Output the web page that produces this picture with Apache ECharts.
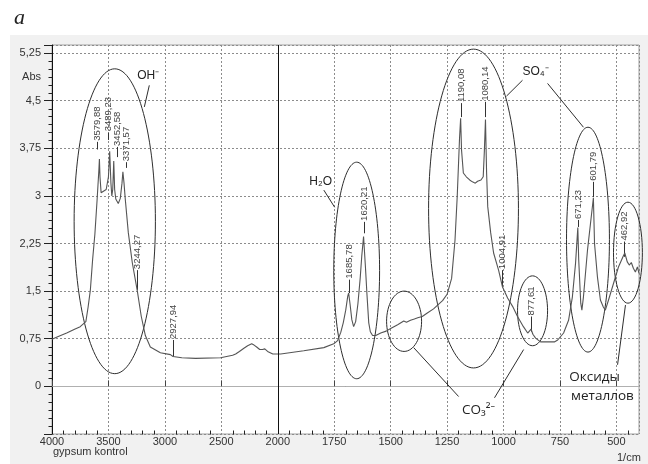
<!DOCTYPE html>
<html>
<head>
<meta charset="utf-8">
<script src="https://cdn.jsdelivr.net/npm/echarts@6/dist/echarts.min.js"></script>
<style>
html, body { margin: 0; padding: 0; background: #fff; }
#wrap { position: relative; width: 648px; height: 464px; }
.frame { position: absolute; left: 10px; top: 35px; width: 638px; height: 429px; background: #f1f1f1; }
#chart { position: absolute; left: 0; top: 0; width: 648px; height: 464px; }
</style>
</head>
<body>
<div id="wrap"><div class="frame"></div><div id="chart"></div></div>
<script>
// IR spectrum (wavenumber 1/cm, absorbance)
var wavenumbers = [
  4000, 3950, 3870, 3800, 3750, 3700, 3680, 3660, 3640, 3620, 3600, 3585, 3580, 3575, 3565, 3550,
  3520, 3500, 3489, 3478, 3470, 3462, 3453, 3445, 3435, 3413, 3395, 3380, 3372, 3362, 3351, 3324,
  3289, 3244, 3209, 3173, 3129, 3040, 2951, 2928, 2850, 2729, 2507, 2400, 2373, 2340, 2300, 2267,
  2231, 2210, 2187, 2160, 2135, 2115, 2090, 2044, 1987, 1885, 1796, 1752, 1735, 1721, 1710, 1699,
  1690, 1686, 1680, 1672, 1664, 1655, 1645, 1635, 1628, 1620, 1612, 1605, 1597, 1590, 1580, 1566,
  1544, 1520, 1500, 1469, 1442, 1430, 1412, 1395, 1380, 1360, 1336, 1310, 1292, 1270, 1250, 1230,
  1215, 1205, 1195, 1190, 1186, 1178, 1165, 1150, 1138, 1125, 1115, 1100, 1090, 1085, 1080, 1075,
  1070, 1057, 1044, 1022, 1005, 982, 960, 938, 912, 893, 885, 878, 870, 858, 836, 805,
  775, 760, 734, 712, 695, 681, 671, 667, 658, 653, 646, 628, 602, 597, 584, 571,
  558, 549, 535, 513, 491, 470, 463, 452, 443, 434, 425, 416, 407, 400
]
var absorbance = [
  0.74, 0.78, 0.84, 0.90, 0.94, 1.02, 1.25, 1.52, 2.00, 2.40, 2.95, 3.40, 3.58, 3.30, 3.05, 3.02,
  3.10, 3.30, 3.70, 3.20, 3.00, 3.10, 3.55, 3.10, 2.95, 2.88, 2.96, 3.20, 3.38, 3.20, 2.95, 2.42,
  1.95, 1.50, 1.10, 0.80, 0.62, 0.53, 0.50, 0.47, 0.45, 0.44, 0.45, 0.49, 0.51, 0.55, 0.60, 0.64,
  0.67, 0.65, 0.62, 0.58, 0.58, 0.59, 0.55, 0.51, 0.51, 0.56, 0.61, 0.67, 0.72, 0.85, 1.00, 1.20,
  1.42, 1.47, 1.30, 1.05, 0.94, 1.02, 1.30, 1.70, 2.05, 2.36, 1.90, 1.45, 1.00, 0.86, 0.80, 0.80,
  0.84, 0.87, 0.91, 0.97, 1.03, 1.01, 1.04, 1.06, 1.08, 1.10, 1.16, 1.22, 1.28, 1.35, 1.45, 1.70,
  2.30, 3.00, 3.90, 4.22, 3.72, 3.36, 3.30, 3.25, 3.22, 3.20, 3.23, 3.25, 3.30, 3.70, 4.20, 3.36,
  2.83, 2.42, 2.10, 1.83, 1.57, 1.39, 1.26, 1.10, 0.94, 0.84, 0.83, 0.90, 0.82, 0.76, 0.70, 0.70,
  0.70, 0.73, 0.84, 1.04, 1.41, 1.94, 2.50, 1.99, 1.31, 1.20, 1.41, 2.15, 2.97, 2.25, 1.72, 1.36,
  1.25, 1.20, 1.36, 1.62, 1.88, 2.05, 2.10, 1.96, 1.91, 1.95, 1.86, 1.80, 1.88, 1.78
]

// labelled peaks
var peakWn = [3579.88, 3489.23, 3452.58, 3371.57, 3244.27, 2927.94, 1685.78, 1620.21,
  1190.08, 1080.14, 1004.91, 877.61, 671.23, 601.79, 462.92]
// where each peak marker starts and ends (absorbance), and a sideways nudge in px
var peakTickLow = [3.73, 3.88, 3.61, 3.44, 1.52, 0.47, 1.47, 2.41, 4.24, 4.24, 1.57, 0.86, 2.51, 2.98, 2.04]
var peakTickTop = [3.85, 4.00, 3.77, 3.53, 1.83, 0.73, 1.68, 2.59, 4.46, 4.48, 1.83, 1.10, 2.62, 3.22, 2.28]
var peakNudge = [-2, -2, 3, 3, 0, 0, 0, 0, 0, 0, 0, 0, 0, 0, -1]

var xTickLabels = [4000, 3500, 3000, 2500, 2000, 1750, 1500, 1250, 1000, 750, 500]
var yTickLabels = [0, 0.75, 1.5, 2.25, 3, 3.75, 4.5, 5.25]

// band groups: left / right wavenumber, top / bottom absorbance
var ovals = [
  [3804, 3084, 5.00, 0.20],
  [1752, 1549, 3.53, 0.12],
  [1518, 1363, 1.50, 0.55],
  [1332, 934, 5.31, 0.29],
  [938, 805, 1.74, 0.64],
  [721, 531, 4.08, 0.54],
  [513, 385, 2.90, 1.31]
]
var leaders = [
  [3138, 4.74, 3182, 4.40],
  [1796, 3.09, 1748, 2.82],
  [916, 4.82, 987, 4.57],
  [805, 4.77, 646, 4.08],
  [1398, 0.61, 1199, -0.16],
  [911, 0.58, 1040, -0.18],
  [460, 1.28, 495, 0.34]
]
var bandNames = ['OH⁻', 'H₂O', 'SO₄⁻', 'CO₃²⁻', 'Оксиды', 'металлов']
var bandNameAt = [[3147, 4.89], [1810, 3.23], [858, 4.95], [1111, -0.37], [597, 0.15], [562, -0.15]]

// the wavenumber scale is stretched x2 below 2000
function toAxis(w) {
  return w >= 2000 ? (4000 - w) / 2000 : 1 + (2000 - w) / 1000
}
function fromAxis(u) {
  return u <= 1 ? 4000 - u * 2000 : 2000 - (u - 1) * 1000
}

// minor ticks: 100 / 50 steps on x, 0.125 on y
var minorX = []
for (var w = 3900; w > 2000; w -= 100) if (w % 500) minorX.push(w)
for (w = 1950; w > 400; w -= 50) if (w % 250) minorX.push(w)
var minorY = []
for (var k = -5; k < 43; k++) if (k % 6) minorY.push(k * 0.125)

var chart = echarts.init(document.getElementById('chart'))
var font = '"Liberation Sans", Arial, sans-serif'

var option = {
  animation: false,
  backgroundColor: 'transparent',
  title: {
    text: 'a', left: 9, top: 2,
    textStyle: { fontFamily: '"Liberation Serif", serif', fontStyle: 'italic', fontWeight: 'normal', fontSize: 22, color: '#222' }
  },
  grid: { left: 52, top: 45, width: 587, height: 389, show: true, backgroundColor: '#fff', borderColor: '#a0a0a0', borderWidth: 1 },
  xAxis: {
    type: 'value', min: 0, max: 2.6, interval: 0.25,
    axisLine: { lineStyle: { color: '#b0b0b0' } },
    axisTick: { inside: true, length: 6, lineStyle: { color: '#444' } },
    axisLabel: {
      margin: 2, color: '#333', fontFamily: font, fontSize: 11, showMaxLabel: false,
      formatter: function (u) {
        var w = Math.round(fromAxis(u))
        return xTickLabels.indexOf(w) >= 0 ? String(w) : ''
      }
    },
    splitLine: { show: true, lineStyle: { color: '#8c8c8c', type: [2, 2] } }
  },
  yAxis: {
    type: 'value', min: -0.75, max: 5.375, interval: 0.75,
    axisLine: { show: true, lineStyle: { color: '#111' } },
    axisTick: { show: true, length: 8, lineStyle: { color: '#222' } },
    axisLabel: {
      margin: 11, color: '#333', fontFamily: font, fontSize: 11,
      formatter: function (v) {
        var hit = yTickLabels.filter(function (t) { return Math.abs(t - v) < 1e-6 })
        return hit.length ? String(hit[0]).replace('.', ',') : ''
      }
    },
    splitLine: { show: true, lineStyle: { color: '#8c8c8c', type: [2, 2] } }
  },
  graphic: [
    { type: 'text', right: 607, top: 71, style: { text: 'Abs', font: '11px ' + font, fill: '#333' } },
    { type: 'text', left: 53, top: 446, style: { text: 'gypsum kontrol', font: '11px ' + font, fill: '#333' } },
    { type: 'text', left: 617, top: 452, style: { text: '1/cm', font: '11px ' + font, fill: '#333' } }
  ],
  series: [
    {
      name: 'spectrum', type: 'line', showSymbol: false, symbol: 'none',
      data: wavenumbers.map(function (w, i) { return [toAxis(w), absorbance[i]] }),
      lineStyle: { color: '#555', width: 1.1 },
      markLine: {
        silent: true, symbol: 'none', label: { show: false },
        data: [
          { xAxis: 1, lineStyle: { color: '#111', type: 'solid', width: 1 } },
          { yAxis: 5.375, lineStyle: { color: '#7a7a7a', type: 'solid', width: 2.5 } }
        ]
      }
    },
    {
      name: 'minorTicks', type: 'custom', silent: true, clip: false, z: 5,
      data: minorX.map(function (w) { return [toAxis(w), -0.75, 0] })
        .concat(minorY.map(function (a) { return [0, a, 1] })),
      renderItem: function (params, api) {
        var p = api.coord([api.value(0), api.value(1)])
        var onY = api.value(2) === 1
        var x = Math.round(p[0]) + 0.5, y = Math.round(p[1]) + 0.5
        return {
          type: 'line',
          shape: onY ? { x1: x - 4, y1: y, x2: x, y2: y } : { x1: x, y1: y, x2: x, y2: y - 4 },
          style: { stroke: '#222', lineWidth: 1 }
        }
      }
    },
    {
      name: 'groups', type: 'custom', silent: true, clip: false,
      data: ovals.map(function (o) { return [toAxis(o[0]), o[2], toAxis(o[1]), o[3]] }),
      renderItem: function (params, api) {
        var a = api.coord([api.value(0), api.value(1)])
        var b = api.coord([api.value(2), api.value(3)])
        return {
          type: 'ellipse',
          shape: { cx: (a[0] + b[0]) / 2, cy: (a[1] + b[1]) / 2, rx: Math.abs(b[0] - a[0]) / 2, ry: Math.abs(b[1] - a[1]) / 2 },
          style: { fill: null, stroke: '#2e2e2e', lineWidth: 1 }
        }
      }
    },
    {
      name: 'leaders', type: 'custom', silent: true, clip: false,
      data: leaders.map(function (l) { return [toAxis(l[0]), l[1], toAxis(l[2]), l[3]] }),
      renderItem: function (params, api) {
        var a = api.coord([api.value(0), api.value(1)])
        var b = api.coord([api.value(2), api.value(3)])
        return { type: 'line', shape: { x1: a[0], y1: a[1], x2: b[0], y2: b[1] }, style: { stroke: '#2e2e2e', lineWidth: 1 } }
      }
    },
    {
      name: 'bandNames', type: 'custom', silent: true, clip: false,
      data: bandNameAt.map(function (p) { return [toAxis(p[0]), p[1]] }),
      renderItem: function (params, api) {
        var p = api.coord([api.value(0), api.value(1)])
        var big = params.dataIndex >= 3
        return {
          type: 'text', x: p[0], y: p[1],
          style: {
            text: bandNames[params.dataIndex],
            font: big ? '13.5px "Open Sans", "Noto Sans", sans-serif' : '12px ' + font,
            fill: '#222', align: 'center', verticalAlign: 'middle'
          }
        }
      }
    },
    {
      name: 'peaks', type: 'custom', silent: true, clip: false,
      data: peakWn.map(function (w, i) { return [toAxis(w), peakTickLow[i], peakTickTop[i]] }),
      renderItem: function (params, api) {
        var lo = api.coord([api.value(0), api.value(1)])
        var hi = api.coord([api.value(0), api.value(2)])
        var x = Math.round(lo[0] + peakNudge[params.dataIndex]) + 0.5
        return {
          type: 'group',
          children: [
            { type: 'line', shape: { x1: x, y1: lo[1], x2: x, y2: hi[1] }, style: { stroke: '#333', lineWidth: 1 } },
            {
              type: 'text', x: x, y: hi[1] - 1, rotation: Math.PI / 2,
              style: {
                text: peakWn[params.dataIndex].toFixed(2).replace('.', ','),
                font: '9.5px ' + font, fill: '#444', align: 'left', verticalAlign: 'middle'
              }
            }
          ]
        }
      }
    }
  ]
}
chart.setOption(option)
</script>
</body>
</html>
